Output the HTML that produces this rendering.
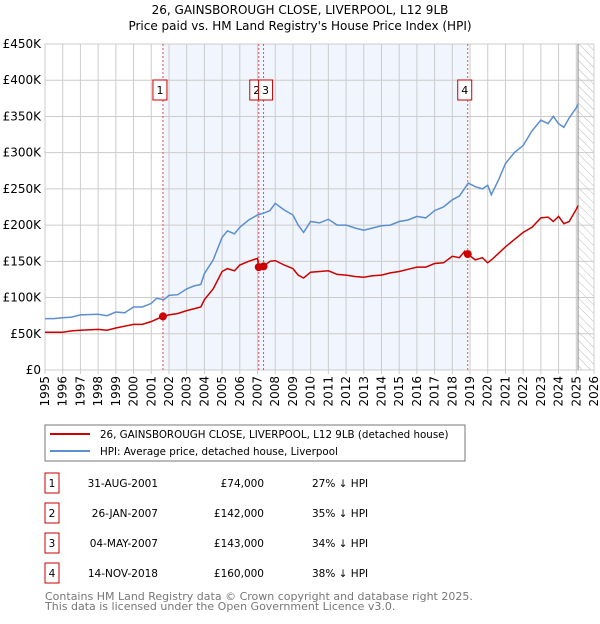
<!DOCTYPE html>
<html><head><meta charset="utf-8"><style>
body{margin:0;background:#fff;font-family:"DejaVu Sans","Liberation Sans",sans-serif;}
svg text{font-family:"DejaVu Sans","Liberation Sans",sans-serif;}
</style></head><body>
<svg id="c" width="600" height="620" viewBox="0 0 600 620" xmlns="http://www.w3.org/2000/svg">
<defs><pattern id="hatch" width="6" height="6" patternUnits="userSpaceOnUse" patternTransform="rotate(-45)"><line x1="0" y1="0" x2="0" y2="6" stroke="#bbb" stroke-width="1"/></pattern></defs>
<text x="300" y="14" text-anchor="middle" font-size="12">26, GAINSBOROUGH CLOSE, LIVERPOOL, L12 9LB</text>
<text x="300" y="30" text-anchor="middle" font-size="12">Price paid vs. HM Land Registry's House Price Index (HPI)</text>
<g id="plot"></g>
<rect x="45" y="425" width="420" height="36" fill="#fff" stroke="#777"/>
<line x1="50" y1="434" x2="90" y2="434" stroke="#cc0000" stroke-width="2"/>
<text x="100" y="438" font-size="10.3">26, GAINSBOROUGH CLOSE, LIVERPOOL, L12 9LB (detached house)</text>
<line x1="50" y1="451" x2="90" y2="451" stroke="#5b8fd0" stroke-width="2"/>
<text x="100" y="455" font-size="10.3">HPI: Average price, detached house, Liverpool</text>
<g id="table" font-size="10.5"></g>
<text x="45" y="600" font-size="11" fill="#777">Contains HM Land Registry data © Crown copyright and database right 2025.</text>
<text x="45" y="610" font-size="11" fill="#777">This data is licensed under the Open Government Licence v3.0.</text>
</svg>
<script>
const yTicks=[0,50000,100000,150000,200000,250000,300000,350000,400000,450000];
const yLabels=["£0","£50K","£100K","£150K","£200K","£250K","£300K","£350K","£400K","£450K"];
const xYears=[1995,1996,1997,1998,1999,2000,2001,2002,2003,2004,2005,2006,2007,2008,2009,2010,2011,2012,2013,2014,2015,2016,2017,2018,2019,2020,2021,2022,2023,2024,2025,2026];
const hpiT=[1995,1995.5,1996,1996.5,1997,1998,1998.5,1999,1999.5,2000,2000.5,2001,2001.3,2001.7,2002,2002.5,2003,2003.4,2003.8,2004,2004.5,2005,2005.3,2005.7,2006,2006.5,2007,2007.4,2007.7,2008,2008.5,2009,2009.3,2009.6,2010,2010.5,2011,2011.5,2012,2012.5,2013,2013.5,2014,2014.5,2015,2015.5,2016,2016.5,2017,2017.5,2018,2018.4,2018.9,2019.3,2019.7,2020,2020.2,2020.6,2021,2021.5,2022,2022.5,2023,2023.4,2023.7,2024,2024.3,2024.6,2025,2025.1];
const hpiV=[71000,71000,72000,73000,76000,77000,75000,80000,79000,87000,87000,92000,99000,97000,103000,104000,112000,116000,118000,133000,152000,183000,192000,188000,197000,207000,214000,217000,220000,230000,221000,214000,200000,190000,205000,203000,208000,200000,200000,196000,193000,196000,199000,200000,205000,207000,212000,210000,220000,225000,235000,240000,258000,253000,250000,255000,242000,262000,285000,300000,310000,330000,345000,340000,350000,340000,335000,348000,362000,367000];
const ppT=[1995,1996,1996.5,1997,1998,1998.5,1999,2000,2000.5,2001,2001.66,2002,2002.5,2003,2003.5,2003.8,2004,2004.5,2005,2005.3,2005.7,2006,2006.5,2007,2007.07,2007.34,2007.7,2008,2008.5,2009,2009.3,2009.6,2010,2010.5,2011,2011.5,2012,2012.5,2013,2013.5,2014,2014.5,2015,2015.5,2016,2016.5,2017,2017.5,2018,2018.4,2018.7,2018.87,2019.3,2019.7,2020,2020.3,2021,2021.5,2022,2022.5,2023,2023.4,2023.7,2024,2024.3,2024.6,2025,2025.1];
const ppV=[52000,52000,54000,55000,56000,55000,58000,63000,63000,67000,74000,76000,78000,82000,85000,87000,97000,112000,136000,140000,137000,145000,150000,154000,142000,143000,150000,151000,145000,140000,131000,127000,135000,136000,137000,132000,131000,129000,128000,130000,131000,134000,136000,139000,142000,142000,147000,148000,157000,155000,164000,160000,152000,155000,148000,154000,170000,180000,190000,197000,210000,211000,205000,212000,202000,205000,222000,227000];
const saleT=[2001.66,2007.07,2007.34,2018.87];
const saleV=[74000,142000,143000,160000];
const saleLabels=["1","2","3","4"];
const saleDates=["31-AUG-2001","26-JAN-2007","04-MAY-2007","14-NOV-2018"];
const salePrices=["£74,000","£142,000","£143,000","£160,000"];
const salePct=["27% ↓ HPI","35% ↓ HPI","34% ↓ HPI","38% ↓ HPI"];
const X0=45,X1=594,Y0=370,Y1=44;
const xs=t=>X0+(t-1995)/(2026-1995)*(X1-X0);
const ys=v=>Y0-v/450000*(Y0-Y1);
const NS="http://www.w3.org/2000/svg";
const plot=document.getElementById('plot');
function mk(tag,attrs,parent){const e=document.createElementNS(NS,tag);for(const k in attrs)e.setAttribute(k,attrs[k]);(parent||plot).appendChild(e);return e;}
let e;
e=mk('rect',{x:X0,y:Y1,width:X1-X0,height:Y0-Y1,fill:'#fff',stroke:'#ccc'});


e=mk('rect',{x:xs(saleT[0]),y:Y1,width:xs(saleT[3])-xs(saleT[0]),height:Y0-Y1,fill:'#eef3fc',opacity:0.8});


e=mk('rect',{x:xs(2025.1),y:Y1,width:X1-xs(2025.1),height:Y0-Y1,fill:'url(#hatch)'});


yTicks.forEach((v,i)=>{
 e=mk('line',{x1:X0,x2:X1,y1:ys(v),y2:ys(v),stroke:'#ccc'});
 
 
 e=mk('text',{x:X0-4,y:ys(v)+4,'text-anchor':'end','font-size':12});
 e.textContent=yLabels[i];
 
 
});
xYears.forEach(yr=>{
 e=mk('line',{x1:xs(yr),x2:xs(yr),y1:Y1,y2:Y0+4,stroke:'#ccc'});
 
 
 e=mk('text',{x:0,y:0,'font-size':12,'text-anchor':'end',transform:`translate(${xs(yr)+4},${Y0+6}) rotate(-90)`});
 e.textContent=yr;
 
 
});
e=mk('line',{x1:xs(2025.1),x2:xs(2025.1),y1:Y1,y2:Y0,stroke:'#888'});


saleT.forEach((t,i)=>{
 e=mk('line',{x1:xs(t),x2:xs(t),y1:Y1,y2:Y0,stroke:'#e05050','stroke-dasharray':'2,2'});
 
 
});
const path=(T,V)=>T.map((t,i)=>(i?'L':'M')+xs(t).toFixed(1)+','+ys(V[i]).toFixed(1)).join('');
e=mk('path',{d:path(hpiT,hpiV),fill:'none',stroke:'#5b8fd0','stroke-width':1.5});


e=mk('path',{d:path(ppT,ppV),fill:'none',stroke:'#cc0000','stroke-width':1.5});


saleT.forEach((t,i)=>{
 e=mk('circle',{cx:xs(t),cy:ys(saleV[i]),r:4,fill:'#cc0000'});
 
 
 const g=mk('g',{});
 
 
 const lx=i===1?xs(t)-9:i===2?xs(t)-5:xs(t)-10;
 mk('rect',{x:lx,y:80,width:14,height:20,fill:'#fff',stroke:'#cc0000'},g);
 const tx=mk('text',{x:lx+7,y:94,'text-anchor':'middle','font-size':11},g);
 tx.textContent=saleLabels[i];
});
const tb=document.getElementById('table');
saleT.forEach((t,i)=>{
 const cy=483+i*30;
 const g=mk('g',{},tb);
 
 
 mk('rect',{x:45,y:cy-10,width:14,height:20,fill:'#fff',stroke:'#cc0000'},g);
 let s=mk('text',{x:52,y:cy+4,'text-anchor':'middle'},g);s.textContent=saleLabels[i];
 s=mk('text',{x:158,y:cy+4,'text-anchor':'end'},g);s.textContent=saleDates[i];
 s=mk('text',{x:264,y:cy+4,'text-anchor':'end'},g);s.textContent=salePrices[i];
 s=mk('text',{x:312,y:cy+4},g);s.textContent=salePct[i];
});
</script>
</body></html>
